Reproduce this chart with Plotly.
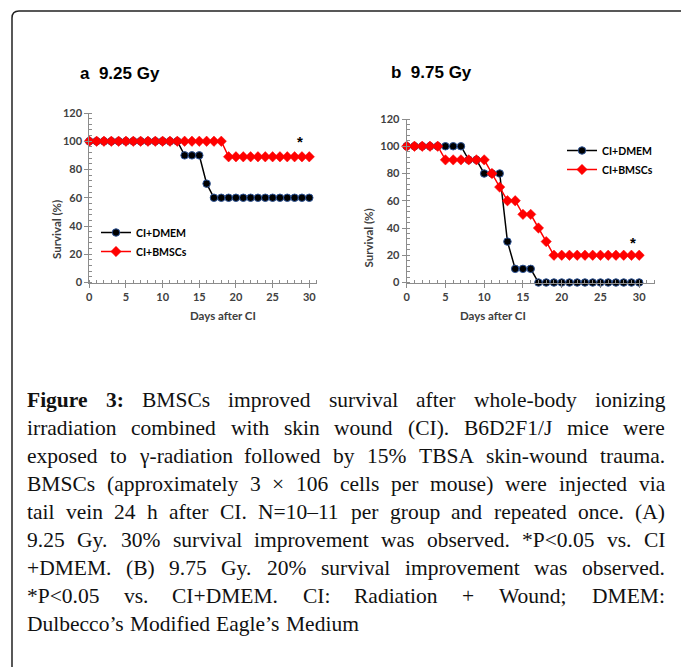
import plotly.graph_objects as go

# ---------------- data ----------------
days = [0, 1, 2, 3, 4, 5, 6, 7, 8, 9, 10, 11, 12, 13, 14, 15, 16, 17, 18, 19, 20,
        21, 22, 23, 24, 25, 26, 27, 28, 29, 30]
a_dmem = [100, 100, 100, 100, 100, 100, 100, 100, 100, 100, 100, 100, 100, 90, 90, 90,
          70, 60, 60, 60, 60, 60, 60, 60, 60, 60, 60, 60, 60, 60, 60]
a_bmsc = [100, 100, 100, 100, 100, 100, 100, 100, 100, 100, 100, 100, 100, 100, 100, 100,
          100, 100, 100, 89, 89, 89, 89, 89, 89, 89, 89, 89, 89, 89, 89]
b_dmem = [100, 100, 100, 100, 100, 100, 100, 100, 90, 90, 80, 80, 80, 30, 10, 10,
          10, 0, 0, 0, 0, 0, 0, 0, 0, 0, 0, 0, 0, 0, 0]
b_bmsc = [100, 100, 100, 100, 100, 90, 90, 90, 90, 90, 90, 80, 70, 60, 60, 50,
          50, 40, 30, 20, 20, 20, 20, 20, 20, 20, 20, 20, 20, 20, 20]
series_names = ["CI+DMEM", "CI+BMSCs"]
panel_titles = ["a\u00a0\u00a09.25 Gy", "b\u00a0\u00a09.75 Gy"]
x_ticks = [0, 5, 10, 15, 20, 25, 30]
y_ticks = [0, 20, 40, 60, 80, 100, 120]
star_a = (28.7, 100)
star_b = (29.2, 29)

caption_lines = [
    "Figure 3: BMSCs improved survival after whole-body ionizing",
    "irradiation combined with skin wound (CI). B6D2F1/J mice were",
    "exposed to γ-radiation followed by 15% TBSA skin-wound trauma.",
    "BMSCs (approximately 3 × 106 cells per mouse) were injected via",
    "tail vein 24 h after CI. N=10–11 per group and repeated once. (A)",
    "9.25 Gy. 30% survival improvement was observed. *P<0.05 vs. CI",
    "+DMEM. (B) 9.75 Gy. 20% survival improvement was observed.",
    "*P<0.05 vs. CI+DMEM. CI: Radiation + Wound; DMEM:",
    "Dulbecco’s Modified Eagle’s Medium",
]

W, H = 681, 667


def px(x):
    return x / W


def py(y):
    return 1 - y / H


# ---------------- figure ----------------
fig = go.Figure()

BLACK = "#000000"
RED = "#ff0000"
dm_marker = dict(symbol="circle", size=7.5, color="#000000",
                 line=dict(color="#2f5597", width=1))
bm_marker = dict(symbol="diamond", size=8, color=RED, line=dict(color=RED, width=0.5))

fig.add_trace(go.Scatter(x=days, y=a_dmem, mode="lines+markers", name=series_names[0],
                         line=dict(color=BLACK, width=1.5), marker=dm_marker,
                         cliponaxis=False, xaxis="x", yaxis="y", legend="legend"))
fig.add_trace(go.Scatter(x=days, y=a_bmsc, mode="lines+markers", name=series_names[1],
                         line=dict(color=RED, width=1.5), marker=bm_marker,
                         cliponaxis=False, xaxis="x", yaxis="y", legend="legend"))
fig.add_trace(go.Scatter(x=days, y=b_dmem, mode="lines+markers", name=series_names[0],
                         line=dict(color=BLACK, width=1.5), marker=dm_marker,
                         cliponaxis=False, xaxis="x2", yaxis="y2", legend="legend2"))
fig.add_trace(go.Scatter(x=days, y=b_bmsc, mode="lines+markers", name=series_names[1],
                         line=dict(color=RED, width=1.5), marker=bm_marker,
                         cliponaxis=False, xaxis="x2", yaxis="y2", legend="legend2"))

tickfont = dict(family="Lato", size=11, color="#404040", weight="bold")
axis_common = dict(showgrid=False, zeroline=False, showline=True, linecolor="#8c8c8c",
                   linewidth=1, ticks="outside", ticklen=4, tickcolor="#8c8c8c",
                   tickwidth=1, tickfont=tickfont, fixedrange=True, automargin=False)

fig.update_layout(
    width=W, height=H,
    margin=dict(l=0, r=0, t=0, b=0, pad=0),
    paper_bgcolor="white", plot_bgcolor="white",
    xaxis=dict(domain=[px(89.3), px(316.6)], range=[0, 31], tickvals=x_ticks,
               anchor="y", minor=dict(dtick=1, ticks="inside", ticklen=3,
                                      tickcolor="#8c8c8c"), **axis_common),
    yaxis=dict(domain=[py(282.5), py(113)], range=[0, 120], tickvals=y_ticks,
               anchor="x", minor=dict(dtick=4, ticks="inside", ticklen=3,
                                      tickcolor="#8c8c8c"), **axis_common),
    xaxis2=dict(domain=[px(406.7), px(654.7)], range=[0, 32], tickvals=x_ticks,
                anchor="y2", minor=dict(dtick=1, ticks="inside", ticklen=3,
                                        tickcolor="#8c8c8c"), **axis_common),
    yaxis2=dict(domain=[py(282.5), py(119)], range=[0, 120], tickvals=y_ticks,
                anchor="x2", minor=dict(dtick=4, ticks="inside", ticklen=3,
                                        tickcolor="#8c8c8c"), **axis_common),
    legend=dict(x=px(96), y=py(218), xanchor="left", yanchor="top",
                bgcolor="rgba(0,0,0,0)", borderwidth=0, itemwidth=30,
                font=dict(family="Lato", size=10.5, color="#000000", weight="bold"),
                tracegroupgap=0),
    legend2=dict(x=px(562), y=py(136), xanchor="left", yanchor="top",
                 bgcolor="rgba(0,0,0,0)", borderwidth=0, itemwidth=30,
                 font=dict(family="Lato", size=10.5, color="#000000", weight="bold"),
                 tracegroupgap=0),
)

ann = []
# panel titles
ann.append(dict(text=panel_titles[0], x=px(78), y=py(73), xref="paper", yref="paper",
                xanchor="left", yanchor="middle", showarrow=False,
                font=dict(family="Liberation Sans", size=17, color="#000", weight="bold")))
ann.append(dict(text=panel_titles[1], x=px(389), y=py(72), xref="paper", yref="paper",
                xanchor="left", yanchor="middle", showarrow=False,
                font=dict(family="Liberation Sans", size=17, color="#000", weight="bold")))
# axis titles
titlefont = dict(family="Lato", size=11.5, color="#404040", weight="bold")
ann.append(dict(text="Survival (%)", x=px(48), y=py(198), xref="paper", yref="paper",
                textangle=-90, showarrow=False, font=titlefont))
ann.append(dict(text="Survival (%)", x=px(368), y=py(207), xref="paper", yref="paper",
                textangle=-90, showarrow=False, font=titlefont))
ann.append(dict(text="Days after CI", x=px(188), y=py(316), xref="paper", yref="paper",
                showarrow=False, font=titlefont))
ann.append(dict(text="Days after CI", x=px(528), y=py(315), xref="paper", yref="paper",
                showarrow=False, font=titlefont))
# significance stars
ann.append(dict(text="*", x=star_a[0], y=star_a[1], xref="x", yref="y", showarrow=False,
                font=dict(family="Liberation Sans", size=15, color="#000", weight="bold")))
ann.append(dict(text="*", x=star_b[0], y=star_b[1], xref="x2", yref="y2", showarrow=False,
                font=dict(family="Liberation Sans", size=15, color="#000", weight="bold")))

# ---------------- caption (justified with Times metrics) ----------------
TIMES = {' ': 250, '!': 333, '%': 833, '(': 333, ')': 333, '*': 500, '+': 564, ',': 250,
         '-': 333, '.': 250, '/': 278, ':': 278, ';': 278, '<': 564, '=': 564, '>': 564,
         'A': 722, 'B': 667, 'C': 667, 'D': 722, 'E': 611, 'F': 556, 'G': 722, 'H': 722,
         'I': 333, 'J': 389, 'K': 722, 'L': 611, 'M': 889, 'N': 722, 'O': 722, 'P': 556,
         'Q': 722, 'R': 667, 'S': 556, 'T': 611, 'U': 722, 'V': 722, 'W': 944, 'X': 722,
         'Y': 722, 'Z': 611, 'a': 444, 'b': 500, 'c': 444, 'd': 500, 'e': 444, 'f': 333,
         'g': 500, 'h': 500, 'i': 278, 'j': 278, 'k': 500, 'l': 278, 'm': 778, 'n': 500,
         'o': 500, 'p': 500, 'q': 500, 'r': 333, 's': 389, 't': 278, 'u': 500, 'v': 500,
         'w': 722, 'x': 500, 'y': 500, 'z': 444, 'γ': 440, '×': 564, '–': 500, '’': 333}
TIMES_B = {'F': 611, 'i': 278, 'g': 500, 'u': 556, 'r': 444, 'e': 444, '3': 500, ':': 333}
for d in "0123456789":
    TIMES[d] = 500

FS = 21.5
LEFT, RIGHT = 27, 665
Y0, STEP = 400, 28


def wwidth(word, bold=False):
    tab = TIMES_B if bold else TIMES
    return sum(tab.get(c, TIMES.get(c, 500)) for c in word) * FS / 1000.0


def esc(s):
    return s.replace("&", "&amp;").replace("<", "&lt;").replace(">", "&gt;")


for i, line in enumerate(caption_lines):
    words = line.split(" ")
    bolds = [(i == 0 and j < 2) for j in range(len(words))]
    widths = [wwidth(w, b) for w, b in zip(words, bolds)]
    last = (i == len(caption_lines) - 1)
    if last:
        gap = TIMES[' '] * FS / 1000.0
    else:
        gap = (RIGHT - LEFT - sum(widths)) / (len(words) - 1)
    x = LEFT
    yc = Y0 + i * STEP
    for w, b, wd in zip(words, bolds, widths):
        ann.append(dict(text=("<b>%s</b>" % esc(w)) if b else esc(w),
                        x=px(x), y=py(yc), xref="paper", yref="paper",
                        xanchor="left", yanchor="middle", showarrow=False,
                        borderpad=0, borderwidth=0,
                        font=dict(family="Liberation Serif", size=FS, color="#111111")))
        x += wd + gap

fig.update_layout(annotations=ann)

# frame with rounded top-left corner
fig.add_shape(type="path", xref="paper", yref="paper",
              path="M %f,%f L %f,%f Q %f,%f %f,%f L %f,%f" % (
                  px(12), py(667), px(12), py(18), px(12), py(11), px(19), py(11),
                  px(681), py(11)),
              line=dict(color="#222222", width=1.5))

fig.write_html("out.html", config={"displayModeBar": False},
               post_script="document.body.style.margin='0';document.body.style.padding='0';")
